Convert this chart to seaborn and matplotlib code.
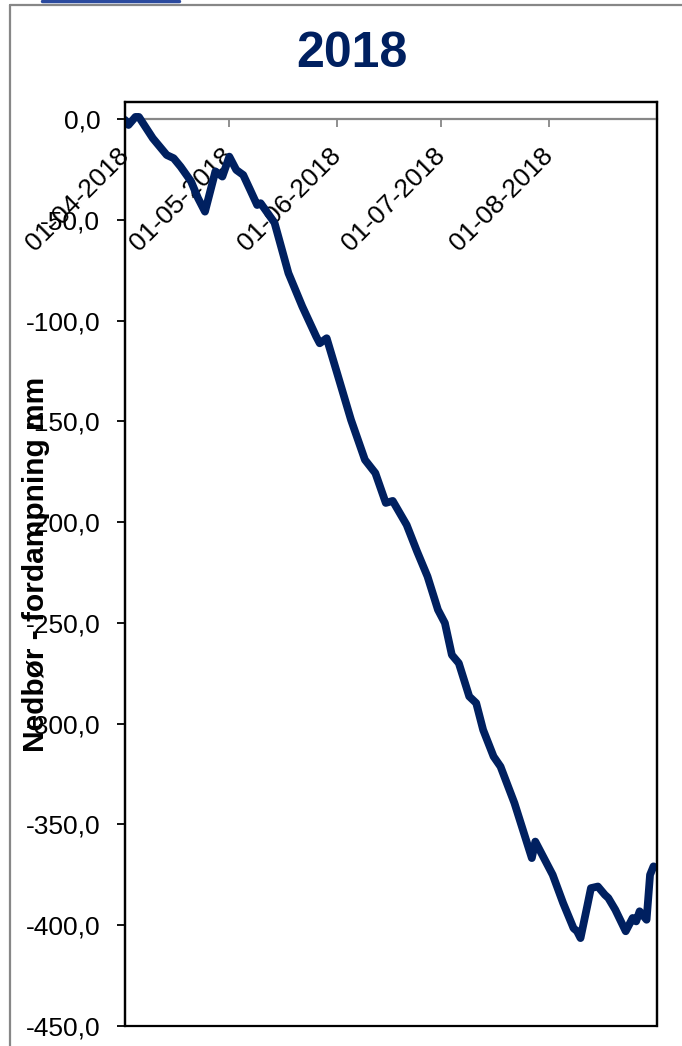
import matplotlib
matplotlib.use("Agg")
import matplotlib.pyplot as plt
from matplotlib.lines import Line2D
from matplotlib.patches import Rectangle
from matplotlib.ticker import MultipleLocator, FuncFormatter
import pandas as pd
import seaborn as sns

# Cumulative precipitation minus evaporation (mm), season 2018
dates = [
    "2018-04-01", "2018-04-02", "2018-04-04", "2018-04-05", "2018-04-09",
    "2018-04-13", "2018-04-15", "2018-04-17", "2018-04-20", "2018-04-22",
    "2018-04-24", "2018-04-27", "2018-04-29", "2018-05-01", "2018-05-03",
    "2018-05-05", "2018-05-07", "2018-05-09", "2018-05-10", "2018-05-14",
    "2018-05-18", "2018-05-22", "2018-05-26", "2018-05-27", "2018-05-29",
    "2018-06-01", "2018-06-05", "2018-06-09", "2018-06-12", "2018-06-15",
    "2018-06-17", "2018-06-21", "2018-06-24", "2018-06-27", "2018-06-30",
    "2018-07-02", "2018-07-04", "2018-07-06", "2018-07-09", "2018-07-11",
    "2018-07-13", "2018-07-16", "2018-07-18", "2018-07-22", "2018-07-27",
    "2018-07-28", "2018-08-02", "2018-08-05", "2018-08-08", "2018-08-09",
    "2018-08-10", "2018-08-12", "2018-08-13", "2018-08-15", "2018-08-17",
    "2018-08-18", "2018-08-20", "2018-08-23", "2018-08-25", "2018-08-26",
    "2018-08-27", "2018-08-29", "2018-08-30", "2018-08-31",
]
values = [
    -0.5, -3.0, 1.0, 1.0, -9.6,
    -17.9, -19.5, -23.7, -31.0, -39.3,
    -46.0, -26.0, -28.6, -18.7, -25.3,
    -27.8, -35.2, -42.7, -41.8, -51.5,
    -76.5, -93.1, -108.0, -111.3, -108.8,
    -126.1, -149.3, -169.1, -175.7, -190.5,
    -189.5, -201.4, -214.6, -227.0, -243.5,
    -250.1, -265.9, -270.0, -286.5, -289.8,
    -303.1, -316.3, -321.3, -339.4, -366.7,
    -358.5, -375.0, -389.0, -401.5, -403.0,
    -406.4, -390.0, -381.6, -380.8, -384.9,
    -386.5, -392.3, -403.0, -396.4, -398.1,
    -393.1, -397.3, -375.0, -370.8,
]
tick_dates = ["2018-04-01", "2018-05-01", "2018-06-01", "2018-07-01",
              "2018-08-01", "2018-09-01"]
tick_labels = ["01-04-2018", "01-05-2018", "01-06-2018", "01-07-2018",
               "01-08-2018", ""]
title = "2018"
y_label = "Nedbør - fordampning mm"

NAVY = "#002060"
GREY = "#878787"

sns.set_theme(style="white")
plt.rcParams["font.family"] = ["Liberation Sans", "DejaVu Sans"]

W, H = 682, 1046
fig = plt.figure(figsize=(W / 100, H / 100), dpi=100)
fig.patch.set_facecolor("white")
ax = fig.add_axes([125 / W, 1 - 1026 / H, 532 / W, 924 / H])

df = pd.DataFrame({"dato": pd.to_datetime(dates), "verdi": values})
sns.lineplot(data=df, x="dato", y="verdi", ax=ax, color=NAVY, linewidth=5.6,
             solid_capstyle="round", solid_joinstyle="round", zorder=4)

ax.set_xlim(pd.Timestamp("2018-04-01"), pd.Timestamp("2018-09-01"))
ax.set_ylim(-450, 8.4)

# frame; the category axis crosses at zero
ax.spines["bottom"].set_position(("data", 0))
ax.spines["bottom"].set_color(GREY)
ax.spines["bottom"].set_linewidth(1.6)
for side in ("left", "top", "right"):
    ax.spines[side].set_color("black")
    ax.spines[side].set_linewidth(1.6)
ax.add_patch(Rectangle((0, 0), 1, 1, transform=ax.transAxes, fill=False,
                       edgecolor="black", linewidth=1.6, clip_on=False, zorder=5))

# y axis: steps of 50 with decimal comma
ax.yaxis.set_major_locator(MultipleLocator(50))
ax.yaxis.set_major_formatter(
    FuncFormatter(lambda v, p: f"{(0.0 if abs(v) < 1e-9 else v):.1f}".replace(".", ",")))
ax.tick_params(axis="y", direction="out", length=5.8, width=1.3, color="black",
               pad=12, labelsize=19, labelcolor="black", left=True)

# date ticks
ax.set_xticks(pd.to_datetime(tick_dates))
ax.set_xticklabels(tick_labels)
ax.tick_params(axis="x", direction="out", length=5.8, width=1.3, color=GREY,
               pad=18, labelsize=19, labelcolor="black", bottom=True,
               labelrotation=45)
for lab in ax.get_xticklabels():
    lab.set_ha("right")
    lab.set_va("center")
    lab.set_rotation_mode("anchor")

ax.set_xlabel("")
ax.set_ylabel(y_label, fontsize=21.5, fontweight="bold", color="black")
ax.yaxis.set_label_coords(-0.167, 0.5)
ax.yaxis.label.set_va("center")
ax.grid(False)

fig.text(352 / W, 1 - 54 / H, title, ha="center", va="center", fontsize=36,
         fontweight="bold", color=NAVY,
         family=["Liberation Sans Narrow", "Liberation Sans", "DejaVu Sans"])

# outer chart frame and header bar
fig.add_artist(Line2D([10 / W, 10 / W], [0, 1 - 5 / H], color=GREY, lw=1.6))
fig.add_artist(Line2D([10 / W, 1], [1 - 5 / H, 1 - 5 / H], color=GREY, lw=1.6))
fig.add_artist(Line2D([42 / W, 179 / W], [1 - 1 / H, 1 - 1 / H], color="#2b4a9e", lw=2.5))

fig.savefig("out.png", dpi=100)
